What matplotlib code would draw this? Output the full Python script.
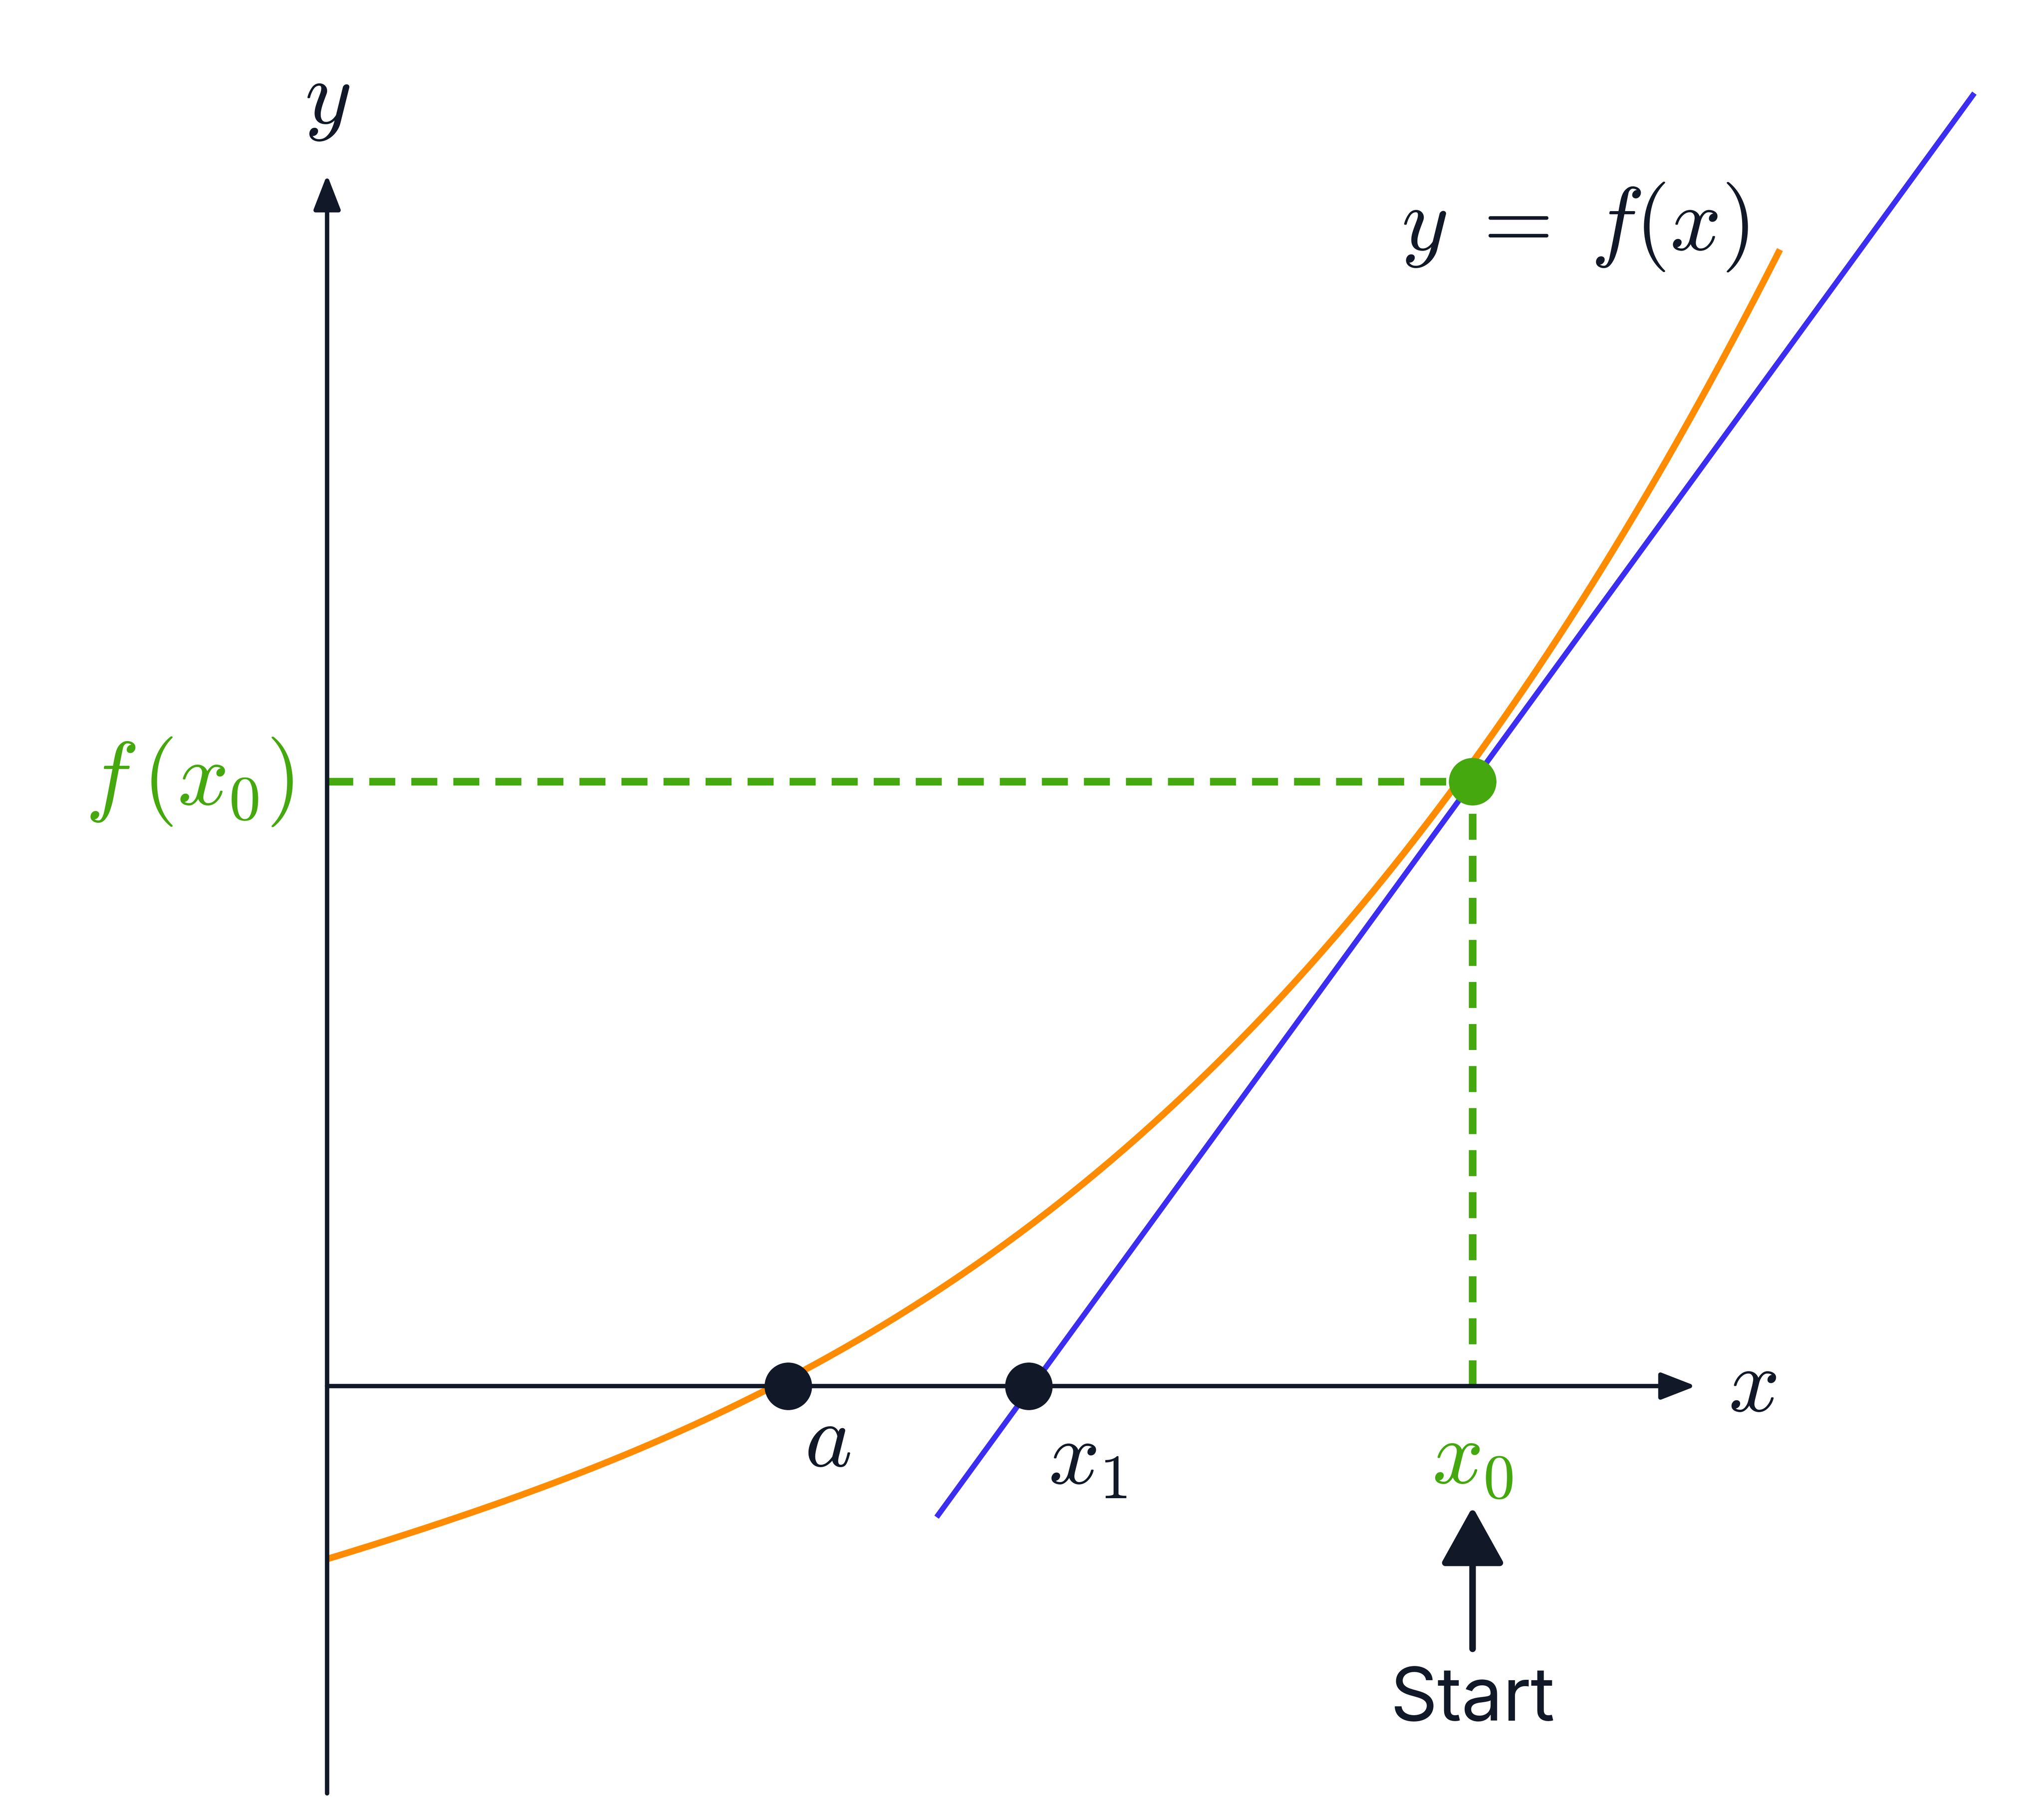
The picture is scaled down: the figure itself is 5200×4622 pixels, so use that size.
import numpy as np
import matplotlib
matplotlib.use("Agg")
import matplotlib.pyplot as plt

plt.rcParams['mathtext.fontset'] = 'cm'

# Data (logical units, origin at axes crossing)
curve_x = [0, 150, 351, 550, 751, 872, 1000, 1106]
curve_y = [-125, -93, 0, 150, 330, 460, 665, 873]
root_a = 351
x0 = 872
fx0 = 460
x1 = 534
tangent_slope = 1.372
tangent_range = [464, 1254]

ORANGE = '#FF8C00'
BLUE = '#3B2EF0'
GREEN = '#44A80E'
DARK = '#111827'
FS = 165

fig = plt.figure(figsize=(52, 46.22), dpi=100)
ax = fig.add_axes([0, 0, 1, 1])
ax.set_xlim(-249, 1556 - 249)
ax.set_ylim(-(1383 - 1055), 1055)
ax.axis('off')

# axes
ax.annotate('', xy=(1042, 0), xytext=(0, 0),
            arrowprops=dict(arrowstyle='-|>,head_length=0.9,head_width=0.35', mutation_scale=60,
                            lw=8, color=DARK, shrinkA=0, shrinkB=0))
ax.annotate('', xy=(0, 922), xytext=(0, -310),
            arrowprops=dict(arrowstyle='-|>,head_length=0.9,head_width=0.35', mutation_scale=60,
                            lw=8, color=DARK, shrinkA=0, shrinkB=0))
ax.text(1085, 0, '$x$', fontsize=FS, ha='center', va='center', color=DARK)
ax.text(0, 980, '$y$', fontsize=FS, ha='center', va='center', color=DARK)

# dashed guides
ax.plot([0, x0], [fx0, fx0], ls=(0, (3.4, 2.1)), lw=14, color=GREEN)
ax.plot([x0, x0], [0, fx0], ls=(0, (3.4, 2.1)), lw=14, color=GREEN)

# curve
c = np.polyfit(curve_x, curve_y, 3)
xs = np.linspace(curve_x[0], curve_x[-1], 400)
ax.plot(xs, np.polyval(c, xs), color=ORANGE, lw=12, solid_capstyle='butt')

# tangent
tx = np.array(tangent_range)
ax.plot(tx, fx0 + tangent_slope * (tx - x0), color=BLUE, lw=10, solid_capstyle='butt')

# points
ax.plot([root_a, x1], [0, 0], 'o', ms=86, color=DARK, zorder=5)
ax.plot([x0], [fx0], 'o', ms=86, color=GREEN, zorder=5)

# labels
ax.text(root_a + 30, -42, '$a$', fontsize=FS, ha='center', va='center', color=DARK)
ax.text(x1 + 45, -55, '$x_1$', fontsize=FS, ha='center', va='center', color=DARK)
ax.text(x0, -55, '$x_0$', fontsize=FS, ha='center', va='center', color=GREEN)
ax.text(-105, fx0, r'$f\,(x_0)$', fontsize=FS, ha='center', va='center', color=GREEN)
ax.text(950, 882, r'$y\;=\;f(x)$', fontsize=FS, ha='center', va='center', color=DARK)

# Start arrow
ax.annotate('', xy=(x0, -92), xytext=(x0, -200),
            arrowprops=dict(arrowstyle='-|>,head_length=0.9,head_width=0.5', mutation_scale=100,
                            lw=12, color=DARK, shrinkA=0, shrinkB=0))
ax.text(x0, -240, 'Start', fontsize=135, family='Inter', ha='center', va='center', color=DARK)

fig.savefig('out.png', dpi=100, facecolor='white')
